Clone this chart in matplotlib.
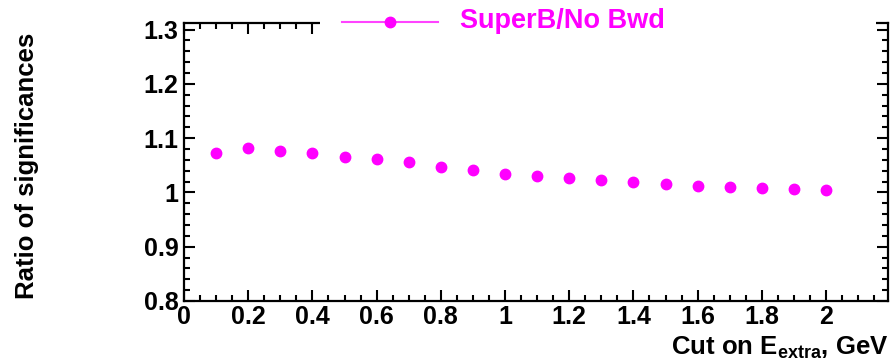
import matplotlib
matplotlib.use("Agg")
import matplotlib.pyplot as plt
from matplotlib.ticker import MultipleLocator, FixedLocator
from matplotlib.lines import Line2D
from matplotlib.patches import Rectangle

plt.rcParams['font.family'] = ['Liberation Sans', 'DejaVu Sans']
plt.rcParams['font.weight'] = 'bold'
plt.rcParams['mathtext.fontset'] = 'custom'
plt.rcParams['mathtext.rm'] = 'Liberation Sans:bold'
plt.rcParams['mathtext.bf'] = 'Liberation Sans:bold'
plt.rcParams['mathtext.it'] = 'Liberation Sans:bold'

cut_values = [0.1, 0.2, 0.3, 0.4, 0.5, 0.6, 0.7, 0.8, 0.9, 1.0,
              1.1, 1.2, 1.3, 1.4, 1.5, 1.6, 1.7, 1.8, 1.9, 2.0]
ratio_values = [1.073, 1.081, 1.077, 1.073, 1.066, 1.062, 1.0555, 1.0476, 1.0415, 1.0348,
                1.031, 1.0268, 1.022, 1.0183, 1.015, 1.0116, 1.0098, 1.0073, 1.006, 1.0043]
series_label = "SuperB/No Bwd"
x_tick_labels = ["0", "0.2", "0.4", "0.6", "0.8", "1", "1.2", "1.4", "1.6", "1.8", "2"]
y_tick_labels = ["0.8", "0.9", "1", "1.1", "1.2", "1.3"]

color = '#ff00ff'

fig = plt.figure(figsize=(8.9, 3.63), dpi=100)
ax = fig.add_axes([184/890, 1-301/363, (888-184)/890, (301-23)/363])

ax.plot(cut_values, ratio_values, 'o', color=color, markersize=7.5, linestyle='none')

ax.set_xlim(0, 2.193)
ax.set_ylim(0.8, 1.312)

ax.xaxis.set_major_locator(FixedLocator([float(t) for t in x_tick_labels]))
ax.set_xticklabels(x_tick_labels)
ax.xaxis.set_minor_locator(MultipleLocator(0.05))
ax.yaxis.set_major_locator(FixedLocator([float(t) for t in y_tick_labels]))
ax.set_yticklabels(y_tick_labels)
ax.yaxis.set_minor_locator(MultipleLocator(0.02))

ax.tick_params(which='both', direction='in', top=True, right=True, width=1.5, color='black')
ax.tick_params(which='major', length=8, labelsize=18)
ax.tick_params(which='minor', length=4)
ax.tick_params(axis='x', which='major', pad=3)
ax.tick_params(axis='y', which='major', pad=4)
for lbl in ax.get_xticklabels() + ax.get_yticklabels():
    lbl.set_fontweight('bold')
for s in ax.spines.values():
    s.set_linewidth(1.6)

fig.text(27/890, 1-166/363, "Ratio of significances", rotation=90, ha='center', va='center',
         fontsize=18.5, fontweight='bold')
fig.text(889/890, 1-348/363, r"Cut on E$_{\mathrm{extra}}$, GeV", ha='right', va='center',
         fontsize=18.5, fontweight='bold')

# legend box covering the top frame (ROOT style)
fig.patches.append(Rectangle((320/890, 1-45/363), (876-320)/890, 45/363,
                             transform=fig.transFigure, facecolor='white', edgecolor='none', zorder=5))
fig.add_artist(Line2D([342/890, 438/890], [1-22/363, 1-22/363], color='#ff44ff', lw=1.5,
                      transform=fig.transFigure, zorder=6))
fig.add_artist(Line2D([390/890], [1-22/363], marker='o', color=color, markersize=7.5,
                      transform=fig.transFigure, zorder=7, linestyle='none'))
fig.text(460/890, 1-21/363, series_label, color=color, fontsize=19.5, fontweight='bold',
         ha='left', va='center', zorder=8)

fig.savefig("out.png", dpi=100)
